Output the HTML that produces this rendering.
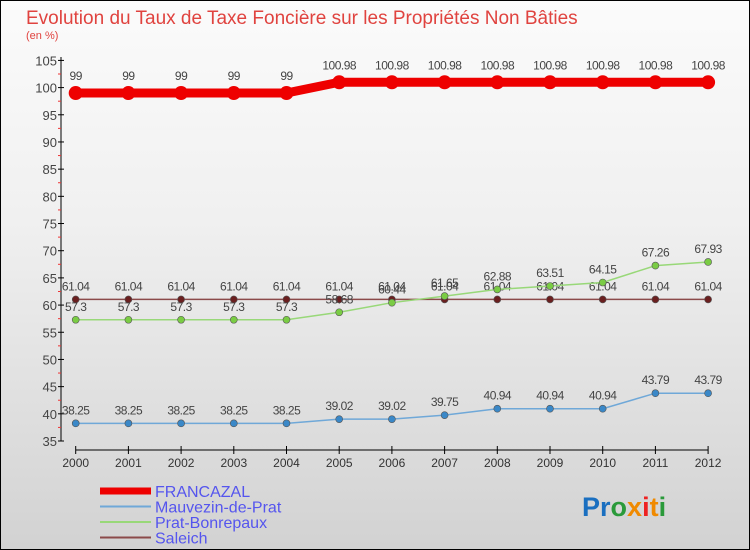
<!DOCTYPE html>
<html><head><meta charset="utf-8"><style>
body{margin:0}
#c{width:750px;height:550px;position:relative;overflow:hidden;background:linear-gradient(#fbfbfb,#f0f0f0 40%,#d2d2d2);font-family:"Liberation Sans",sans-serif}
</style></head><body>
<div id="c">
<svg id="s" width="750" height="550" style="position:absolute;left:0;top:0">
<rect x="0.5" y="0.5" width="749" height="549" fill="none" stroke="#000"/>
<text x="26" y="24" font-size="19" fill="#e0433f">Evolution du Taux de Taxe Foncière sur les Propriétés Non Bâties</text>
<text x="26" y="39" font-size="11" fill="#e0433f">(en %)</text>
<g id="g"></g>
<text x="582" y="516" font-size="27" font-weight="bold"><tspan fill="#1a6fc0">Pr</tspan><tspan fill="#2a9a3a">o</tspan><tspan fill="#f08a00">x</tspan><tspan fill="#e22">i</tspan><tspan fill="#f08a00">t</tspan><tspan fill="#2a9a3a">i</tspan></text>
</svg>
</div>
<script>
const years=[2000,2001,2002,2003,2004,2005,2006,2007,2008,2009,2010,2011,2012];
const francazal=[99,99,99,99,99,100.98,100.98,100.98,100.98,100.98,100.98,100.98,100.98];
const mauvezin=[38.25,38.25,38.25,38.25,38.25,39.02,39.02,39.75,40.94,40.94,40.94,43.79,43.79];
const pratBonrepaux=[57.3,57.3,57.3,57.3,57.3,58.68,60.44,61.65,62.88,63.51,64.15,67.26,67.93];
const saleich=[61.04,61.04,61.04,61.04,61.04,61.04,61.04,61.04,61.04,61.04,61.04,61.04,61.04];
const yTicks=[35,40,45,50,55,60,65,70,75,80,85,90,95,100,105];
const NS='http://www.w3.org/2000/svg',g=document.getElementById('g');
const X=i=>75.7+i*52.7, Y=v=>441-(v-35)*5.437;
function el(t,a,p){const e=document.createElementNS(NS,t);for(const k in a)e.setAttribute(k,a[k]);(p||g).appendChild(e);return e;}
let ax=el('line',{x1:61,y1:57,x2:61,y2:441,stroke:'#000'});


let xa=el('line',{x1:75.7,y1:450,x2:X(12),y2:450,stroke:'#000'});


yTicks.forEach(v=>{
 el('line',{x1:58,y1:Y(v),x2:64,y2:Y(v),stroke:'#000'});
 if(v<105) el('line',{x1:58,y1:Y(v+2.5),x2:61,y2:Y(v+2.5),stroke:'#e33'});
 let t=el('text',{x:57,y:Y(v)+5,'font-size':13,'text-anchor':'end',fill:'#444'});t.textContent=v;
 
 
});
years.forEach((yr,i)=>{
 el('line',{x1:X(i),y1:446,x2:X(i),y2:454,stroke:'#000'});
 let t=el('text',{x:X(i),y:467,'font-size':12,'text-anchor':'middle',fill:'#333'});t.textContent=yr;
 
 
});
const series=[[saleich,'#8b4a4a','#6a1f1f',1.5,3.5,'saleich'],[pratBonrepaux,'#98d878','#7acc44',1.5,3.5,'prat-bonrepaux'],[mauvezin,'#6fa8d8','#3a88c8',1.5,3.5,'mauvezin-de-prat'],[francazal,'#ee0000','#ee0000',9,7,'francazal']];
series.forEach(([d,c,dc,w,r,n])=>{
 let p=el('polyline',{points:d.map((v,i)=>X(i)+','+Y(v)).join(' '),fill:'none',stroke:c,'stroke-width':w});
 
 
 d.forEach((v,i)=>{
  let ci=el('circle',{cx:X(i),cy:Y(v),r:r,fill:dc,stroke:n=='francazal'?'none':'#555','stroke-width':0.6});
  
  
  let t=el('text',{x:X(i),y:Y(v)-(n=='francazal'?13:9),'font-size':12,'text-anchor':'middle',fill:'#444','letter-spacing':'-0.5'});t.textContent=v;
  
  
 });
});
const leg=[['FRANCAZAL','#ee0000',7],['Mauvezin-de-Prat','#6fa8d8',2],['Prat-Bonrepaux','#98d878',2],['Saleich','#8b4a4a',2]];
leg.forEach(([n,c,w],i)=>{
 let y=491+i*15.5;
 let l=el('line',{x1:100,y1:y,x2:151,y2:y,stroke:c,'stroke-width':w});
 
 
 let t=el('text',{x:155,y:y+6,'font-size':16,fill:'#5555ee'});t.textContent=n;
 
 
});
</script>
</body></html>
